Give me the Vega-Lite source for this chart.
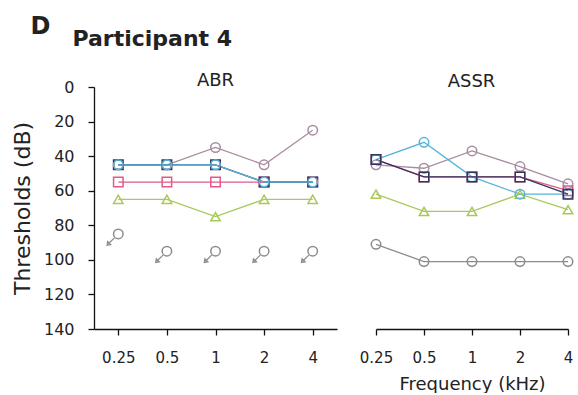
{
  "$schema": "https://vega.github.io/schema/vega-lite/v6.json",
  "padding": {"left": 11, "top": 15, "right": 0, "bottom": 0},
  "background": "white",
  "title": {"text": "D", "anchor": "start", "dx": 19, "fontSize": 24, "fontWeight": "bold", "color": "#222", "offset": -11},
  "datasets": {
    "th": [
      {"t": "ABR", "s": "m", "f": "0.25", "v": 45, "nr": false},
      {"t": "ABR", "s": "m", "f": "0.5", "v": 45, "nr": false},
      {"t": "ABR", "s": "m", "f": "1", "v": 35, "nr": false},
      {"t": "ABR", "s": "m", "f": "2", "v": 45, "nr": false},
      {"t": "ABR", "s": "m", "f": "4", "v": 25, "nr": false},
      {"t": "ABR", "s": "p", "f": "0.25", "v": 55, "nr": false},
      {"t": "ABR", "s": "p", "f": "0.5", "v": 55, "nr": false},
      {"t": "ABR", "s": "p", "f": "1", "v": 55, "nr": false},
      {"t": "ABR", "s": "p", "f": "2", "v": 55, "nr": false},
      {"t": "ABR", "s": "p", "f": "4", "v": 55, "nr": false},
      {"t": "ABR", "s": "g", "f": "0.25", "v": 65, "nr": false},
      {"t": "ABR", "s": "g", "f": "0.5", "v": 65, "nr": false},
      {"t": "ABR", "s": "g", "f": "1", "v": 75, "nr": false},
      {"t": "ABR", "s": "g", "f": "2", "v": 65, "nr": false},
      {"t": "ABR", "s": "g", "f": "4", "v": 65, "nr": false},
      {"t": "ABR", "s": "k", "f": "0.25", "v": 85, "nr": true},
      {"t": "ABR", "s": "k", "f": "0.5", "v": 95, "nr": true},
      {"t": "ABR", "s": "k", "f": "1", "v": 95, "nr": true},
      {"t": "ABR", "s": "k", "f": "2", "v": 95, "nr": true},
      {"t": "ABR", "s": "k", "f": "4", "v": 95, "nr": true},
      {"t": "ABR", "s": "n", "f": "0.25", "v": 45, "nr": false},
      {"t": "ABR", "s": "n", "f": "0.5", "v": 45, "nr": false},
      {"t": "ABR", "s": "n", "f": "1", "v": 45, "nr": false},
      {"t": "ABR", "s": "n", "f": "2", "v": 55, "nr": false},
      {"t": "ABR", "s": "n", "f": "4", "v": 55, "nr": false},
      {"t": "ABR", "s": "c", "f": "0.25", "v": 45, "nr": false},
      {"t": "ABR", "s": "c", "f": "0.5", "v": 45, "nr": false},
      {"t": "ABR", "s": "c", "f": "1", "v": 45, "nr": false},
      {"t": "ABR", "s": "c", "f": "2", "v": 55, "nr": false},
      {"t": "ABR", "s": "c", "f": "4", "v": 55, "nr": false},
      {"t": "ASSR", "s": "m", "f": "0.25", "v": 45, "nr": false},
      {"t": "ASSR", "s": "m", "f": "0.5", "v": 47, "nr": false},
      {"t": "ASSR", "s": "m", "f": "1", "v": 37, "nr": false},
      {"t": "ASSR", "s": "m", "f": "2", "v": 46, "nr": false},
      {"t": "ASSR", "s": "m", "f": "4", "v": 56, "nr": false},
      {"t": "ASSR", "s": "p", "f": "0.25", "v": 42, "nr": false},
      {"t": "ASSR", "s": "p", "f": "0.5", "v": 52, "nr": false},
      {"t": "ASSR", "s": "p", "f": "1", "v": 52, "nr": false},
      {"t": "ASSR", "s": "p", "f": "2", "v": 52, "nr": false},
      {"t": "ASSR", "s": "p", "f": "4", "v": 60, "nr": false},
      {"t": "ASSR", "s": "g", "f": "0.25", "v": 62, "nr": false},
      {"t": "ASSR", "s": "g", "f": "0.5", "v": 72, "nr": false},
      {"t": "ASSR", "s": "g", "f": "1", "v": 72, "nr": false},
      {"t": "ASSR", "s": "g", "f": "2", "v": 62, "nr": false},
      {"t": "ASSR", "s": "g", "f": "4", "v": 71, "nr": false},
      {"t": "ASSR", "s": "k", "f": "0.25", "v": 91, "nr": false},
      {"t": "ASSR", "s": "k", "f": "0.5", "v": 101, "nr": false},
      {"t": "ASSR", "s": "k", "f": "1", "v": 101, "nr": false},
      {"t": "ASSR", "s": "k", "f": "2", "v": 101, "nr": false},
      {"t": "ASSR", "s": "k", "f": "4", "v": 101, "nr": false},
      {"t": "ASSR", "s": "c", "f": "0.25", "v": 42, "nr": false},
      {"t": "ASSR", "s": "c", "f": "0.5", "v": 32, "nr": false},
      {"t": "ASSR", "s": "c", "f": "1", "v": 52, "nr": false},
      {"t": "ASSR", "s": "c", "f": "2", "v": 62, "nr": false},
      {"t": "ASSR", "s": "c", "f": "4", "v": 62, "nr": false},
      {"t": "ASSR", "s": "n", "f": "0.25", "v": 42, "nr": false},
      {"t": "ASSR", "s": "n", "f": "0.5", "v": 52, "nr": false},
      {"t": "ASSR", "s": "n", "f": "1", "v": 52, "nr": false},
      {"t": "ASSR", "s": "n", "f": "2", "v": 52, "nr": false},
      {"t": "ASSR", "s": "n", "f": "4", "v": 62, "nr": false}
    ]
  },
  "vconcat": [
    {
      "title": {"text": "Participant 4", "anchor": "start", "dx": 61, "fontSize": 22, "fontWeight": "bold", "color": "#222", "offset": 21},
      "spacing": 15,
      "hconcat": [
        {
          "width": 243,
          "height": 242,
          "title": {"text": "ABR", "fontSize": 18, "fontWeight": "normal", "color": "#222", "offset": -11, "frame": "group"},
          "data": {"name": "th"},
          "transform": [{"filter": "datum.t == 'ABR'"}],
          "encoding": {
            "x": {"field": "f", "type": "ordinal", "sort": ["0.25", "0.5", "1", "2", "4"],
                  "scale": {"type": "point", "padding": 0.5},
                  "axis": {"title": null, "labelAngle": 0, "labelFontSize": 15, "labelPadding": 15}},
            "y": {"field": "v", "type": "quantitative",
                  "scale": {"domain": [0, 140], "reverse": true, "nice": false, "zero": false},
                  "axis": {"values": [0, 20, 40, 60, 80, 100, 120, 140], "title": "Thresholds (dB)", "titleFontSize": 22, "titlePadding": 9, "labelFontSize": 16, "labelPadding": 14}},
            "color": {"field": "s", "type": "nominal", "legend": null,
                      "scale": {"domain": ["m", "p", "g", "k", "n", "c"], "range": ["#a98ca2", "#e2588a", "#a9c95a", "#8c8c8c", "#34345e", "#58b3d8"]}}
          },
          "layer": [
            {"transform": [{"filter": "!datum.nr"}], "mark": {"type": "line", "strokeWidth": 1.3}},
            {"mark": {"type": "point", "filled": false, "strokeWidth": 1.5, "opacity": 1},
             "encoding": {"shape": {"field": "s", "type": "nominal", "legend": null,
                                    "scale": {"domain": ["m", "p", "g", "k", "n", "c"], "range": ["circle", "square", "triangle-up", "circle", "square", "circle"]}},
                          "size": {"value": 90}}},
            {"transform": [{"filter": "datum.nr"}],
             "mark": {"type": "point", "filled": false, "strokeWidth": 1.3, "opacity": 1, "stroke": "#8c8c8c",
                      "shape": "M-0.35,0.35L-0.9,0.9M-1,1L-0.95,0.68L-0.68,0.95Z", "size": 500},
             "encoding": {"color": {"value": "#8c8c8c"}}}
          ]
        },
        {
          "width": 227,
          "height": 242,
          "title": {"text": "ASSR", "fontSize": 18, "fontWeight": "normal", "color": "#222", "offset": -4, "frame": "group", "dx": 6},
          "data": {"name": "th"},
          "transform": [{"filter": "datum.t == 'ASSR'"}],
          "encoding": {
            "x": {"field": "f", "type": "ordinal", "sort": ["0.25", "0.5", "1", "2", "4"],
                  "scale": {"type": "point", "range": [24, 216], "padding": 0},
                  "axis": {"title": "Frequency (kHz)", "titleFontSize": 18, "titlePadding": 10, "labelAngle": 0, "labelFontSize": 15, "labelPadding": 15}},
            "y": {"field": "v", "type": "quantitative",
                  "scale": {"domain": [0, 140], "reverse": true, "nice": false, "zero": false},
                  "axis": null},
            "color": {"field": "s", "type": "nominal", "legend": null,
                      "scale": {"domain": ["m", "p", "g", "k", "n", "c"], "range": ["#a98ca2", "#e2588a", "#a9c95a", "#8c8c8c", "#34345e", "#58b3d8"]}}
          },
          "layer": [
            {"transform": [{"filter": "!datum.nr"}], "mark": {"type": "line", "strokeWidth": 1.3}},
            {"mark": {"type": "point", "filled": false, "strokeWidth": 1.5, "opacity": 1},
             "encoding": {"shape": {"field": "s", "type": "nominal", "legend": null,
                                    "scale": {"domain": ["m", "p", "g", "k", "n", "c"], "range": ["circle", "square", "triangle-up", "circle", "square", "circle"]}},
                          "size": {"value": 90}}}
          ]
        }
      ]
    }
  ],
  "config": {
    "font": "DejaVu Sans",
    "view": {"stroke": null},
    "axis": {"grid": false, "domainColor": "#111", "tickColor": "#111", "labelColor": "#222", "titleColor": "#222",
             "titleFontWeight": "normal", "tickSize": 6, "domainWidth": 1.3, "tickWidth": 1.3}
  }
}
